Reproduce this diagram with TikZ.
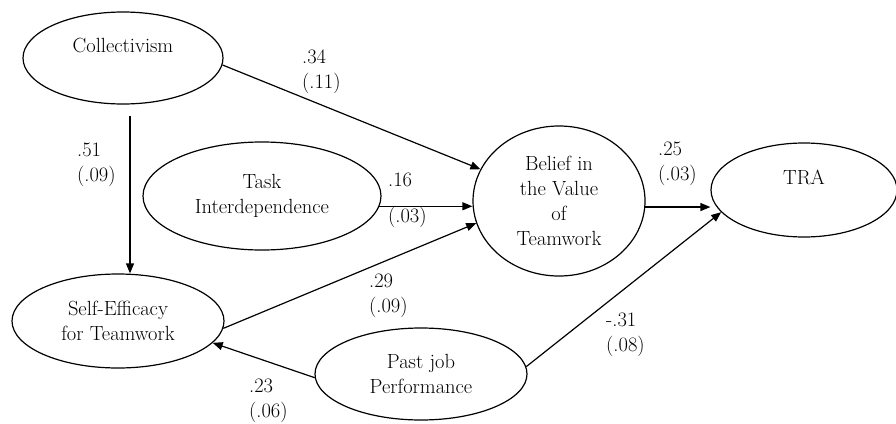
\documentclass[tikz,border=0pt]{standalone}
\usetikzlibrary{arrows.meta,shapes.geometric}

\begin{document}
\begin{tikzpicture}[x=1pt,y=-1pt,>={Triangle[length=10pt,width=8pt]},
		font=\rmfamily\fontsize{20.5}{25}\selectfont,
		latent/.style={ellipse,draw,line width=1.2pt,inner sep=0pt,align=center},
		effect/.style={->,line width=1.2pt},
		coef/.style={anchor=west,inner sep=0pt,align=left}]
		\useasboundingbox (0,0) rectangle (896,423);
		% constructs
		\node[latent,minimum width=200pt,minimum height=92pt] (coll) at (123,58) {Collectivism\\\mbox{}};
		\node[latent,minimum width=238pt,minimum height=108pt] (task) at (262,196) {Task\\Interdependence};
		\node[latent,minimum width=172pt,minimum height=150pt] (belief) at (559,201) {Belief in\\the Value\\of\\Teamwork};
		\node[latent,minimum width=186pt,minimum height=94pt] (tra) at (804,190) {TRA\\\mbox{}};
		\node[latent,minimum width=212pt,minimum height=94pt] (self) at (118,321) {Self-Efficacy\\for Teamwork};
		\node[latent,minimum width=212pt,minimum height=92pt] (past) at (421,374) {Past job\\Performance};
		% paths
		\draw[effect] (coll.-4) -- (belief.158);
		\draw[effect] ([xshift=7pt,yshift=-11pt]coll.south) -- ([xshift=7pt]coll.south |- self.north);
		\draw[effect] (task.-5) -- (task.-5 -| belief.west);
		\draw[effect] (belief.-4) -- (belief.-4 -| tra.west);
		\draw[effect] (self.-4) -- (belief.195);
		\draw[effect] (past.4) -- (tra.195);
		\draw[effect] (past.182) -- (self.-13);
		% coefficients
		\node[coef] (c34) at (302,71.5) {.34\\(.11)};
		\node[coef] (c51) at (77,164.5) {.51\\(.09)};
		\node[coef] (c16) at (388,200) {.16\\[11pt](.03)};
		\node[coef] (c25) at (658,163.5) {.25\\(.03)};
		\node[coef] (c29) at (369,295.5) {.29\\(.09)};
		\node[coef] (c31) at (606,335) {-.31\\(.08)};
		\node[coef] (c23) at (249,400.5) {.23\\(.06)};
\end{tikzpicture}
\end{document}
